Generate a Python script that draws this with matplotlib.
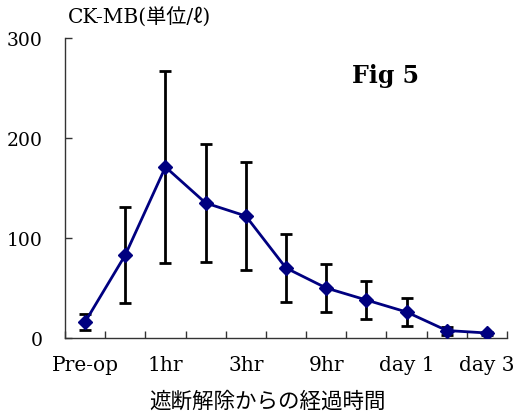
import matplotlib
matplotlib.use("Agg")
import matplotlib.pyplot as plt
import numpy as np

# Data
tick_labels = ["Pre-op", "", "1hr", "", "3hr", "", "9hr", "", "day 1", "", "day 3"]
means = [16, 83, 171, 135, 122, 70, 50, 38, 26, 7.5, 5]
errors = [8, 48, 96, 59, 54, 34, 24, 19, 14, 4, 1.5]

plt.rcParams['font.family'] = ['DejaVu Serif', 'Noto Sans CJK JP']

fig = plt.figure(figsize=(5.18, 4.14), dpi=100)
ax = fig.add_axes([65/518, 1-339/414, (507-65)/518, 300/414])

x = np.arange(len(means))
ax.errorbar(x, means, yerr=errors, fmt='none', ecolor='black', elinewidth=2,
            capsize=4.3, capthick=2, zorder=2)
ax.plot(x, means, color='#000080', lw=2, marker='D', markersize=7,
        markerfacecolor='#000080', markeredgecolor='#000080', zorder=3)

ax.set_xlim(-0.5, len(means) - 0.5)
ax.set_ylim(0, 300)
ax.set_yticks([0, 100, 200, 300])

# category labels at centers, ticks at boundaries
ax.set_xticks(x)
ax.set_xticklabels(tick_labels)
ax.set_xticks(np.arange(-0.5, len(means) + 0.5, 1), minor=True)
ax.tick_params(axis='x', which='major', length=0, pad=12, labelsize=14.5)
ax.tick_params(axis='x', which='minor', direction='in', length=5, width=1, color='#333333')
ax.tick_params(axis='y', direction='in', length=5, width=1, color='#333333', pad=16, labelsize=13.5)

for s in ['top', 'right']:
    ax.spines[s].set_visible(False)
for s in ['left', 'bottom']:
    ax.spines[s].set_color('#333333')
    ax.spines[s].set_linewidth(1)

fig.text(68/518, 1-18/414, "CK-MB(単位/ℓ)", fontsize=14.5, ha='left', va='center')
fig.text(352/518, 1-76/414, "Fig 5", fontsize=17, fontweight='bold', ha='left', va='center')
fig.text(268/518, 1-402/414, "遮断解除からの経過時間", fontsize=15.5, ha='center', va='center')

fig.savefig("out.png", dpi=100)
